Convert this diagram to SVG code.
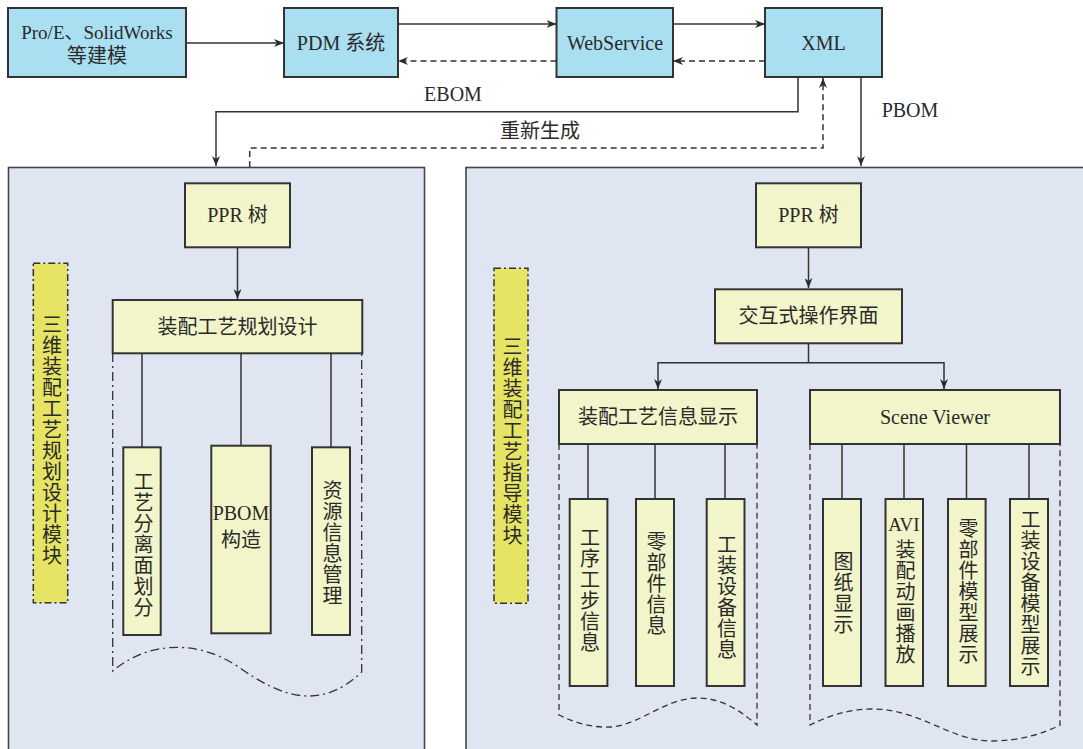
<svg xmlns="http://www.w3.org/2000/svg" width="1083" height="749" viewBox="0 0 1083 749">
<defs>
<marker id="arr" markerUnits="userSpaceOnUse" markerWidth="10" markerHeight="8" refX="10" refY="4" orient="auto">
<path d="M0,0 L10,4 L0,8 L3,4 z" fill="#2b2b2b"/>
</marker>
<style>
.top{fill:#a9dff0;stroke:#333;stroke-width:2}
.panel{fill:#dfe6f2;stroke:#444;stroke-width:1.6}
.node{fill:#f2f5c9;stroke:#333;stroke-width:2}
.label{fill:#e6e465;stroke:#333;stroke-width:1.5;stroke-dasharray:7,3,2,3}
.ln{fill:none;stroke:#333;stroke-width:1.5}
.ar{fill:none;stroke:#333;stroke-width:1.5;marker-end:url(#arr)}
.da{fill:none;stroke:#333;stroke-width:1.5;stroke-dasharray:6,4;marker-end:url(#arr)}
.dd{fill:none;stroke:#333;stroke-width:1.3;stroke-dasharray:9,4,2,4}
.dsh{fill:none;stroke:#333;stroke-width:1.3;stroke-dasharray:6,4}
text{font-family:"Liberation Serif","Noto Sans CJK SC",serif;font-size:20px;fill:#2a2a2a;text-anchor:middle;dominant-baseline:central}
.v{writing-mode:vertical-rl;letter-spacing:1px}
</style>
</defs>

<g id="panels">
<rect class="panel" x="8.5" y="167.5" width="416" height="600"/>
<rect class="panel" x="466" y="167.5" width="640" height="600"/>
</g>

<g id="group-outlines">
<path class="dd" d="M112.7,353 V671 C150,640 200,640 240,668 S320,712 361.7,672 V353"/>
<path class="dsh" d="M559,444 V715 C575,723 593,728 611,727 C640,725 665,698 698,698 C725,698 745,715 757,725 V444"/>
<path class="dsh" d="M810,444 V725 C830,715 850,709 873,709 C920,709 950,741 992,741 C1020,741 1045,733 1060,725 V444"/>
</g>

<g id="connectors">
<path class="ar" d="M186,43 H284"/>
<path class="ar" d="M398,24 H556.5"/>
<path class="da" d="M556.5,61 H398"/>
<path class="ar" d="M673,24 H765"/>
<path class="da" d="M765,61 H673"/>
<path class="ar" d="M798,77 V111.7 H216 V166"/>
<path class="da" d="M249.7,167 V148 H823 V78"/>
<path class="ar" d="M861,77 V166"/>
<path class="ar" d="M237.5,247 V299"/>
<path class="ln" d="M142,353 V447 M241,353 V446 M331,353 V447"/>
<path class="ar" d="M808.5,247 V288"/>
<path class="ln" d="M808.5,343 V362.7"/>
<path class="ar" d="M808.5,362.7 H658 V389"/>
<path class="ar" d="M808.5,362.7 H944 V389"/>
<path class="ln" d="M588,444 V499 M655,444 V499 M725,444 V499 M842,444 V499 M904,444 V499 M966.5,444 V499 M1029,444 V499"/>
<text x="453" y="94">EBOM</text>
<text x="540" y="131">重新生成</text>
<text x="910" y="110">PBOM</text>
</g>

<g id="n-model"><rect class="top" x="8" y="8" width="178" height="69"/><text x="97" y="32" style="font-size:19px">Pro/E、SolidWorks</text><text x="97" y="56">等建模</text></g>
<g id="n-pdm"><rect class="top" x="284" y="8" width="114" height="69"/><text x="341" y="43">PDM 系统</text></g>
<g id="n-ws"><rect class="top" x="556.5" y="8" width="116.5" height="69"/><text x="615" y="43">WebService</text></g>
<g id="n-xml"><rect class="top" x="765" y="8" width="117" height="69"/><text x="823.5" y="43">XML</text></g>

<g id="n-label-left"><rect class="label" x="33.3" y="263.3" width="34.4" height="339.4"/><text class="v" x="50.5" y="440">三维装配工艺规划设计模块</text></g>
<g id="n-ppr-left"><rect class="node" x="185" y="183.3" width="105" height="64"/><text x="237.5" y="215">PPR 树</text></g>
<g id="n-plan"><rect class="node" x="112.7" y="300" width="249.6" height="53.3"/><text x="237.5" y="326.7">装配工艺规划设计</text></g>
<g id="n-split"><rect class="node" x="123.3" y="447.3" width="37.4" height="187.7"/><text class="v" x="142" y="545">工艺分离面划分</text></g>
<g id="n-pbom"><rect class="node" x="211.3" y="445.7" width="59.4" height="187.6"/><text x="241" y="513">PBOM</text><text x="241" y="540">构造</text></g>
<g id="n-res"><rect class="node" x="312" y="447.3" width="38" height="187.7"/><text class="v" x="331" y="543">资源信息管理</text></g>

<g id="n-label-right"><rect class="label" x="494" y="268.3" width="34" height="335"/><text class="v" x="511" y="441.7">三维装配工艺指导模块</text></g>
<g id="n-ppr-right"><rect class="node" x="756" y="183.3" width="105" height="64"/><text x="808.5" y="215">PPR 树</text></g>
<g id="n-ui"><rect class="node" x="715" y="289.3" width="187" height="54"/><text x="808.5" y="316">交互式操作界面</text></g>
<g id="n-info"><rect class="node" x="559" y="390" width="198" height="54"/><text x="658" y="417">装配工艺信息显示</text></g>
<g id="n-scene"><rect class="node" x="810" y="390" width="250" height="54"/><text x="935" y="417">Scene Viewer</text></g>
<g id="n-step"><rect class="node" x="569.7" y="499" width="37.7" height="187"/><text class="v" x="588.5" y="590.5">工序工步信息</text></g>
<g id="n-part"><rect class="node" x="636" y="499" width="38" height="187"/><text class="v" x="655" y="584">零部件信息</text></g>
<g id="n-tool"><rect class="node" x="706.7" y="499" width="37.8" height="187"/><text class="v" x="725.5" y="597.5">工装设备信息</text></g>
<g id="n-drawing"><rect class="node" x="823" y="499" width="38" height="187"/><text class="v" x="842" y="593">图纸显示</text></g>
<g id="n-avi"><rect class="node" x="885.5" y="499" width="37.5" height="187"/><text x="904" y="524" style="font-size:19px">AVI</text><text class="v" x="904" y="602">装配动画播放</text></g>
<g id="n-partmodel"><rect class="node" x="948" y="499" width="37.6" height="187"/><text class="v" x="967" y="592">零部件模型展示</text></g>
<g id="n-toolmodel"><rect class="node" x="1010" y="499" width="38" height="187"/><text class="v" x="1029" y="593">工装设备模型展示</text></g>
</svg>
